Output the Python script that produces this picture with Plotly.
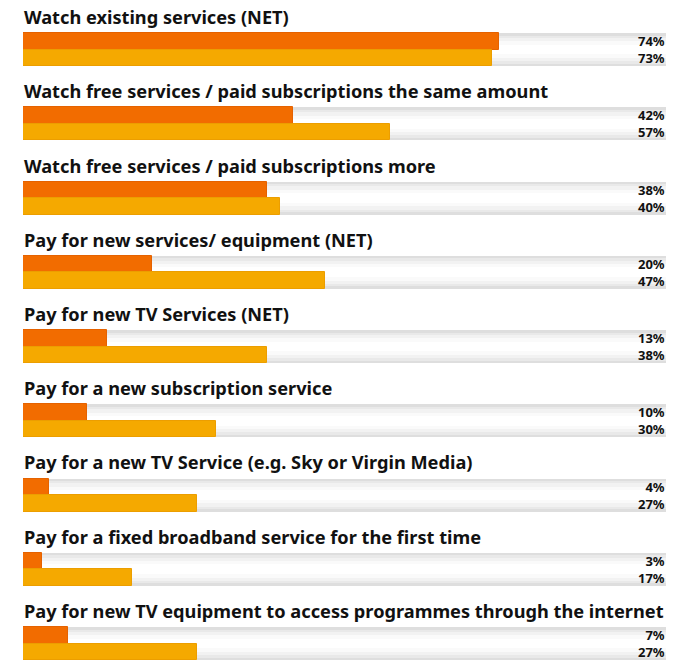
import plotly.graph_objects as go

categories = [
    "Watch existing services (NET)",
    "Watch free services / paid subscriptions the same amount",
    "Watch free services / paid subscriptions more",
    "Pay for new services/ equipment (NET)",
    "Pay for new TV Services (NET)",
    "Pay for a new subscription service",
    "Pay for a new TV Service (e.g. Sky or Virgin Media)",
    "Pay for a fixed broadband service for the first time",
    "Pay for new TV equipment to access programmes through the internet",
]
series_a = [74, 42, 38, 20, 13, 10, 4, 3, 7]
series_b = [73, 57, 40, 47, 38, 30, 27, 17, 27]

ORANGE = "#F26C00"
YELLOW = "#F5A900"
FONT = "Noto Sans"

n = len(categories)
idx = list(range(n))
bar_w = 0.222
off = 0.111

fig = go.Figure()

# background track: layered bars give a grey-edged, white-centred band
track_layers = [
    (2 * bar_w, "#dedede"),
    (2 * bar_w * 0.85, "#e9e9e9"),
    (2 * bar_w * 0.7, "#f2f2f2"),
    (2 * bar_w * 0.5, "#fafafa"),
    (2 * bar_w * 0.3, "#ffffff"),
]
for w, c in track_layers:
    fig.add_trace(go.Bar(
        x=[100] * n, y=idx, orientation="h", width=w,
        marker=dict(color=c, line=dict(width=0)),
        hoverinfo="skip", showlegend=False,
    ))

fig.add_trace(go.Bar(
    x=series_a, y=[i - off for i in idx], orientation="h", width=bar_w,
    marker=dict(color=ORANGE, line=dict(color="#E56200", width=1)),
    showlegend=False, name="A",
))
fig.add_trace(go.Bar(
    x=series_b, y=[i + off for i in idx], orientation="h", width=bar_w,
    marker=dict(color=YELLOW, line=dict(color="#EC9E00", width=1)),
    showlegend=False, name="B",
))

annotations = []
for i, (cat, a, b) in enumerate(zip(categories, series_a, series_b)):
    annotations.append(dict(
        x=0, y=i - 0.438, xref="x", yref="y", text=f"<b>{cat}</b>",
        showarrow=False, xanchor="left", yanchor="middle", borderpad=0,
        font=dict(family=FONT, size=18.2, color="#111111"),
    ))
    # both percentages of a row stacked in one right-aligned label
    annotations.append(dict(
        x=100, y=i, xref="x", yref="y",
        text=f"<b>{a}%</b><br><b>{b}%</b>",
        showarrow=False, xanchor="right", yanchor="middle", align="right",
        borderpad=0,
        font=dict(family=FONT, size=13, color="#111111"),
    ))

fig.update_layout(
    width=684, height=662,
    margin=dict(l=23, r=18, t=0, b=0),
    paper_bgcolor="white", plot_bgcolor="white",
    barmode="overlay", bargap=0,
    xaxis=dict(range=[0, 100], visible=False, fixedrange=True),
    yaxis=dict(range=[8.249, -0.667], visible=False, fixedrange=True),
    annotations=annotations,
)

fig.write_html("out.html")
